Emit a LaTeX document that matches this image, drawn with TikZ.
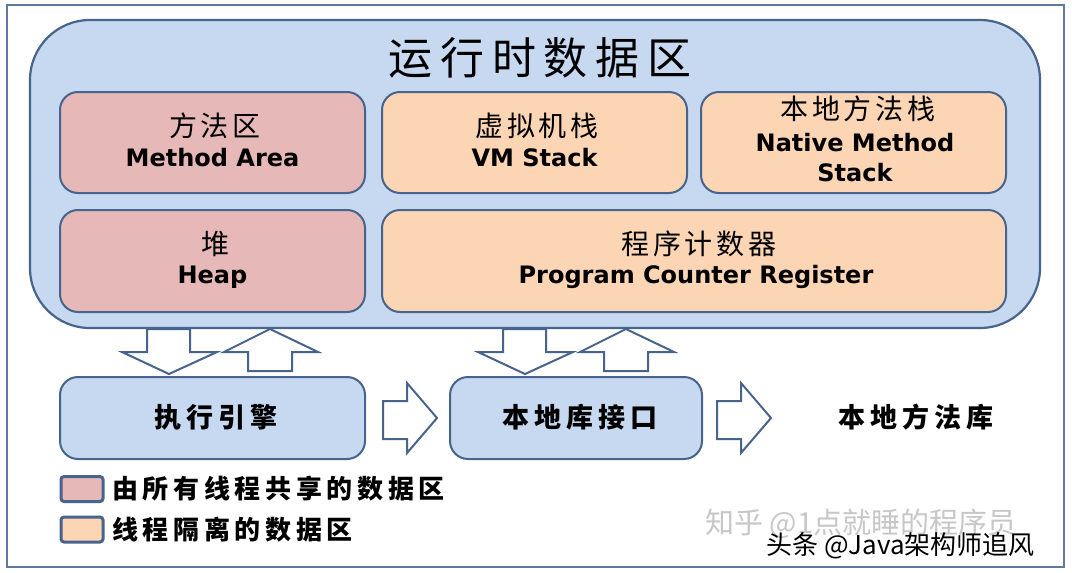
\documentclass[tikz,border=0pt]{standalone}
\usepackage{fontspec}
\newfontfamily\cjk{Noto Sans CJK SC}
\newfontfamily\cjksp[LetterSpace=18]{Noto Sans CJK SC}
\newfontfamily\cjkbx[LetterSpace=14]{Noto Sans CJK SC}
\newfontfamily\lat{DejaVu Sans}
\definecolor{frameC}{RGB}{95,120,160}
\definecolor{edgeC}{RGB}{70,100,140}
\definecolor{skyC}{RGB}{198,217,240}
\definecolor{pinkC}{RGB}{230,184,183}
\definecolor{peachC}{RGB}{252,213,181}
\tikzset{
  bigbox/.style={draw=edgeC, line width=2.2pt, fill=skyC, rounded corners=60pt},
  pinkbox/.style={draw=edgeC, line width=2pt, fill=pinkC, rounded corners=18pt, inner sep=0pt},
  peachbox/.style={draw=edgeC, line width=2pt, fill=peachC, rounded corners=18pt, inner sep=0pt},
  bluebox/.style={draw=edgeC, line width=2pt, fill=skyC, rounded corners=18pt, inner sep=0pt},
  zh/.style={font=\cjkbx\fontsize{28}{30}\selectfont, inner sep=0pt},
  zhb/.style={font=\cjksp\bfseries\fontsize{27}{30}\selectfont, inner sep=0pt},
  en/.style={font=\lat\bfseries\fontsize{24}{28}\selectfont, inner sep=0pt},
  blockarrow/.style={draw=edgeC, line width=2pt, fill=white, line join=miter},
  swatch/.style={draw=edgeC, line width=3pt, rounded corners=3pt, minimum width=42pt, minimum height=25pt, inner sep=0pt},
  legtext/.style={font=\cjksp\bfseries\fontsize{26}{30}\selectfont, inner sep=0pt, anchor=west},
}
\begin{document}
\begin{tikzpicture}[x=1pt,y=-1pt]
\useasboundingbox (0,0) rectangle (1072,573);
\fill[white] (0,0) rectangle (1072,573);
% outer frame
\draw[frameC, line width=2pt] (7,5) rectangle (1064,567);
% runtime data area
\node[bigbox, minimum width=1010pt, minimum height=308pt, inner sep=0pt] (rt) at (535,174) {};
\node[font=\cjksp\fontsize{44}{48}\selectfont, inner sep=0pt] (rtt) at (540,58) {运行时数据区};
% inner boxes
\node[pinkbox, minimum width=305pt, minimum height=101pt] (ma) at (212.5,142.5) {};
\node[peachbox, minimum width=305pt, minimum height=101pt] (vm) at (534.5,142.5) {};
\node[peachbox, minimum width=305pt, minimum height=101pt] (nm) at (853.5,142.5) {};
\node[pinkbox, minimum width=305pt, minimum height=102pt] (hp) at (212.5,261) {};
\node[peachbox, minimum width=624pt, minimum height=102pt] (pc) at (694,261) {};
\node[zh] (mazh) at (215,126) {方法区};
\node[en] (maen) at (212.5,158) {Method Area};
\node[zh] (vmzh) at (537,126) {虚拟机栈};
\node[en] (vmen) at (534.5,158) {VM Stack};
\node[zh] (nmzh) at (858,109) {本地方法栈};
\node[en] (nmen1) at (855,143) {Native Method};
\node[en] (nmen2) at (855,173) {Stack};
\node[zh] (hpzh) at (215,244) {堆};
\node[en] (hpen) at (212.5,277) {Heap};
\node[zh] (pczh) at (699,244) {程序计数器};
\node[en] (pcen) at (696,277) {Program Counter Register};
% lower row
\node[bluebox, minimum width=305pt, minimum height=82pt] (ee) at (212.5,418) {};
\node[zhb] (eet) at (216,417.5) {执行引擎};
\node[bluebox, minimum width=252pt, minimum height=82pt] (nl) at (576,418) {};
\node[zhb] (nlt) at (580,417.5) {本地库接口};
\node[zhb] (nml) at (916,417.5) {本地方法库};
% block arrows: down / up between runtime area and lower boxes
\draw[blockarrow] (147,329) -- (190,329) -- (190,352) -- (217,352) -- (169,374) -- (122,352) -- (147,352) -- cycle;
\draw[blockarrow] (248,371) -- (292,371) -- (292,352) -- (318,352) -- (270,329) -- (224,352) -- (248,352) -- cycle;
\draw[blockarrow] (503,329) -- (546,329) -- (546,352) -- (573,352) -- (525,374) -- (478,352) -- (503,352) -- cycle;
\draw[blockarrow] (604,371) -- (648,371) -- (648,352) -- (674,352) -- (626,329) -- (580,352) -- (604,352) -- cycle;
% right arrows
\draw[blockarrow] (383,401) -- (407,401) -- (407,383) -- (437,418) -- (407,453) -- (407,439) -- (383,439) -- cycle;
\draw[blockarrow] (717,401) -- (741,401) -- (741,383) -- (771,418) -- (741,453) -- (741,439) -- (717,439) -- cycle;
% legend
\node[swatch, fill=pinkC] (lg1) at (82,489) {};
\node[legtext] (lg1t) at (112,489) {由所有线程共享的数据区};
\node[swatch, fill=peachC] (lg2) at (82,529.5) {};
\node[legtext] (lg2t) at (112,529.5) {线程隔离的数据区};
% watermarks
\node[font=\cjk\fontsize{29}{30}\selectfont, text=black!22, inner sep=0pt, anchor=west] (wm1) at (705,524) {知乎 @1点就睡的程序员};
\node[font=\cjk\fontsize{26}{28}\selectfont, text=black, inner sep=0pt, anchor=west] (wm2) at (766,546) {头条 @Java架构师追风};
\end{tikzpicture}
\end{document}
